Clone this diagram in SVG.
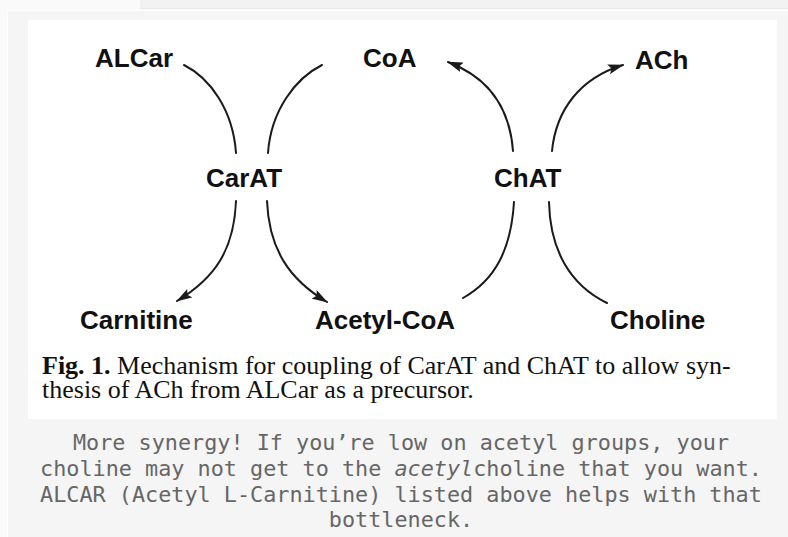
<svg xmlns="http://www.w3.org/2000/svg" width="788" height="537" viewBox="0 0 788 537">
  <style>
    .lbl { font-family: "Liberation Sans", Arial, sans-serif; font-weight: bold; font-size: 26px; fill: #111; }
    .cap { font-family: "Liberation Serif", "Times New Roman", serif; font-size: 26px; fill: #111; }
    .note { font-family: "DejaVu Sans Mono", monospace; font-size: 21.8px; fill: #666; text-anchor: middle; }
    .arc { fill: none; stroke: #1a1a1a; stroke-width: 2; stroke-linecap: round; }
  </style>
  <defs>
    <marker id="ah" viewBox="0 0 16 10" refX="15" refY="5" markerWidth="16" markerHeight="10" markerUnits="userSpaceOnUse" orient="auto">
      <path d="M0,0 L16,5 L0,10 L3,5 Z" fill="#1a1a1a"/>
    </marker>
  </defs>

  <!-- page background -->
  <rect x="0" y="0" width="788" height="537" fill="#fafafa"/>
  <rect x="140" y="0" width="648" height="9" fill="#f2f2f2"/>
  <rect x="140" y="8" width="648" height="1" fill="#e9e9e9"/>
  <rect x="7" y="10" width="781" height="1" fill="#ffffff"/>
  <rect x="7" y="10" width="1" height="527" fill="#ffffff"/>
  <rect x="8" y="11" width="780" height="526" fill="#f5f5f5"/>
  <rect x="28" y="20" width="749" height="399" fill="#ffffff"/>

  <g id="connectors">
    <path class="arc" d="M184,65 C210,78 233,110 236,153"/>
    <path class="arc" d="M322,65 C296,78 271,110 268,153"/>
    <path class="arc" d="M513,151 C510,110 490,78 448,62" marker-end="url(#ah)"/>
    <path class="arc" d="M552,151 C556,110 580,78 623,65" marker-end="url(#ah)"/>
    <path class="arc" d="M236,201 C234,250 215,278 177,301" marker-end="url(#ah)"/>
    <path class="arc" d="M267,201 C269,250 290,280 327,302" marker-end="url(#ah)"/>
    <path class="arc" d="M463,298 C495,280 511,250 514,202"/>
    <path class="arc" d="M607,303 C570,285 550,250 549,202"/>
  </g>

  <g id="node-alcar"><text class="lbl" x="95" y="67">ALCar</text></g>
  <g id="node-coa"><text class="lbl" x="363" y="67">CoA</text></g>
  <g id="node-ach"><text class="lbl" x="635" y="69">ACh</text></g>
  <g id="node-carat"><text class="lbl" x="206" y="187">CarAT</text></g>
  <g id="node-chat"><text class="lbl" x="494" y="187">ChAT</text></g>
  <g id="node-carnitine"><text class="lbl" x="80" y="329">Carnitine</text></g>
  <g id="node-acetylcoa"><text class="lbl" x="315" y="329">Acetyl-CoA</text></g>
  <g id="node-choline"><text class="lbl" x="610" y="329">Choline</text></g>

  <g id="caption">
    <text class="cap" x="42" y="374"><tspan font-weight="bold">Fig. 1.</tspan> Mechanism for coupling of CarAT and ChAT to allow syn-</text>
    <text class="cap" x="42" y="398">thesis of ACh from ALCar as a precursor.</text>
  </g>

  <g id="note">
    <text class="note" x="401" y="450">More synergy! If you’re low on acetyl groups, your</text>
    <text class="note" x="401" y="476">choline may not get to the <tspan font-style="italic">acetyl</tspan>choline that you want.</text>
    <text class="note" x="401" y="502">ALCAR (Acetyl L-Carnitine) listed above helps with that</text>
    <text class="note" x="401" y="527">bottleneck.</text>
  </g>
</svg>
